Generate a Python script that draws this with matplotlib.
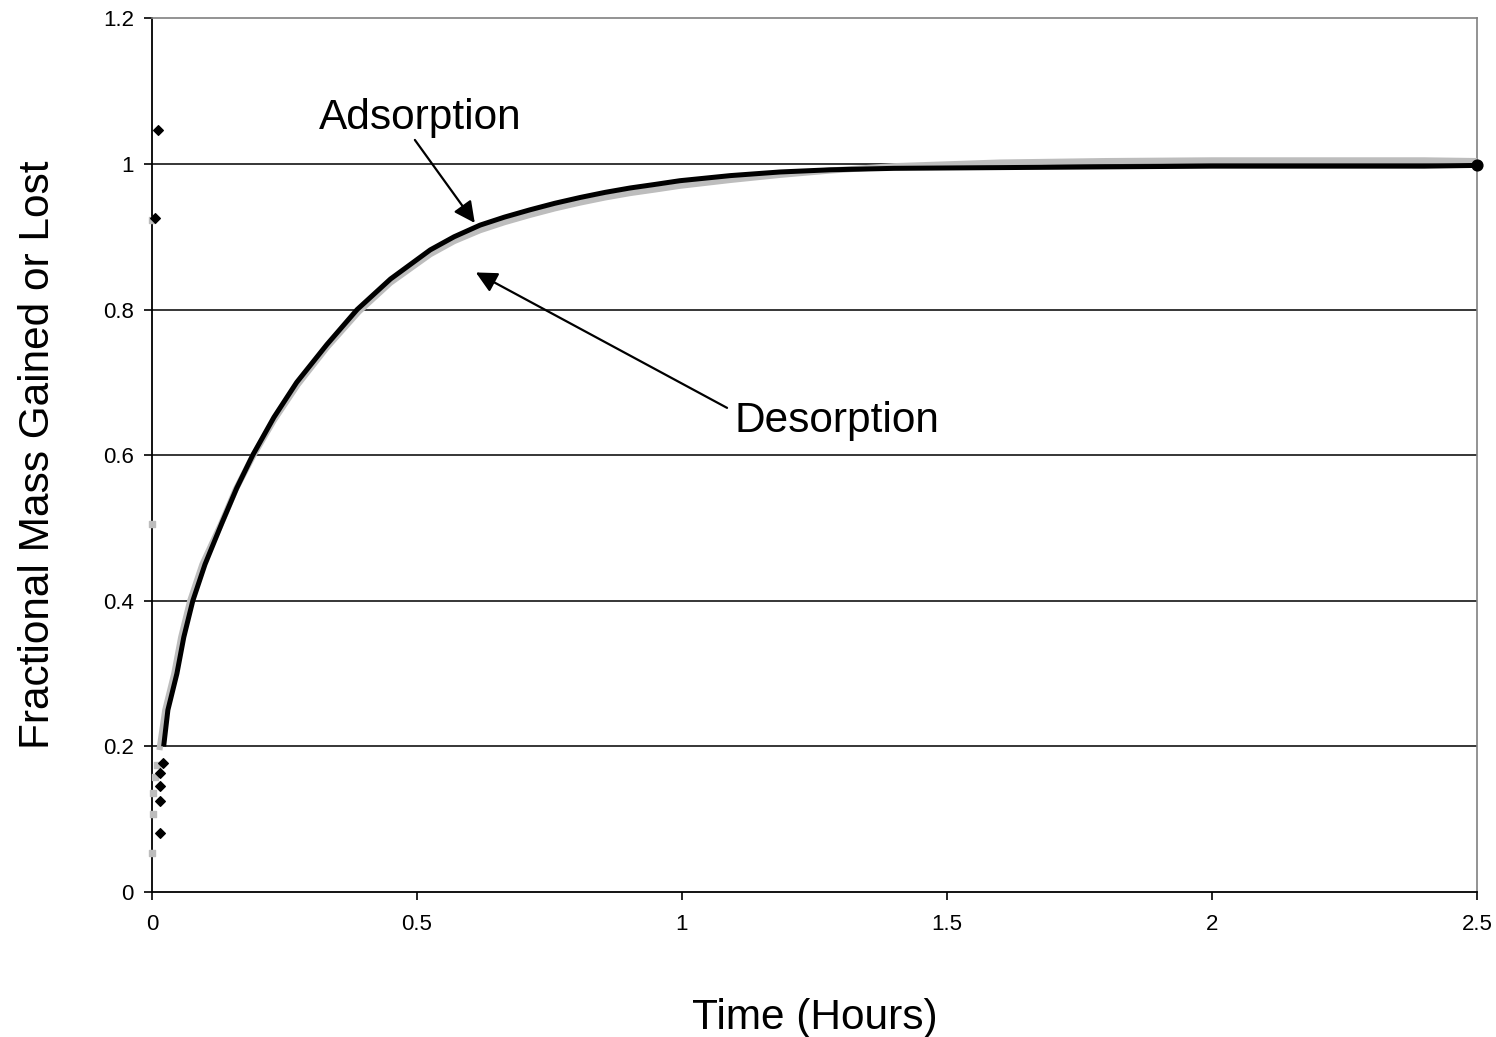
import numpy as np
import matplotlib.pyplot as plt

plt.rcParams['font.family'] = ['Liberation Sans', 'DejaVu Sans']

# values
ads_t = [0.022, 0.030, 0.047, 0.060, 0.077, 0.100, 0.132, 0.160, 0.190, 0.230, 0.273, 0.330,
         0.387, 0.450, 0.525, 0.570, 0.619, 0.665, 0.713, 0.760, 0.808, 0.855, 0.902, 0.950,
         0.996, 1.091, 1.185, 1.280, 1.400, 1.600, 1.800, 2.000, 2.200, 2.400, 2.500]
ads_y = [0.200, 0.250, 0.300, 0.350, 0.400, 0.450, 0.507, 0.555, 0.600, 0.652, 0.700, 0.752,
         0.800, 0.842, 0.882, 0.900, 0.916, 0.927, 0.937, 0.946, 0.954, 0.961, 0.967, 0.972,
         0.977, 0.984, 0.989, 0.992, 0.994, 0.995, 0.996, 0.997, 0.997, 0.997, 0.998]

des_t = [0.014, 0.025, 0.042, 0.055, 0.072, 0.095, 0.130, 0.158, 0.190, 0.230, 0.275, 0.330,
         0.390, 0.450, 0.525, 0.570, 0.619, 0.665, 0.713, 0.760, 0.808, 0.855, 0.902, 0.950,
         0.996, 1.091, 1.185, 1.280, 1.400, 1.600, 1.800, 2.000, 2.200, 2.400, 2.500]
des_y = [0.195, 0.250, 0.300, 0.350, 0.400, 0.450, 0.505, 0.553, 0.598, 0.648, 0.697, 0.748,
         0.797, 0.837, 0.876, 0.894, 0.909, 0.920, 0.930, 0.939, 0.947, 0.954, 0.960, 0.965,
         0.970, 0.978, 0.985, 0.991, 0.997, 1.002, 1.004, 1.005, 1.005, 1.005, 1.004]

# stray early readings
ads_early_t = [0.011, 0.006, 0.015, 0.015, 0.016, 0.016, 0.020]
ads_early_y = [1.046, 0.926, 0.081, 0.125, 0.145, 0.164, 0.177]
des_early_t = [0.000, 0.000, 0.001, 0.001, 0.006, 0.009, 0.000]
des_early_y = [0.923, 0.054, 0.107, 0.136, 0.158, 0.174, 0.505]

fig = plt.figure(figsize=(14.96, 10.37), dpi=100)
ax = fig.add_axes([0.1016, 0.1398, 0.8857, 0.8425])

ax.plot(des_t, des_y, color='#bdbdbd', lw=4.4, solid_capstyle='butt', zorder=3)
ax.plot(ads_t, ads_y, color='black', lw=3.6, solid_capstyle='butt', zorder=4)
ax.scatter(des_early_t, des_early_y, marker='s', s=24, color='#bdbdbd', zorder=3, clip_on=False)
ax.scatter(ads_early_t, ads_early_y, marker='D', s=24, color='black', zorder=4, clip_on=False)
ax.scatter([ads_t[-1]], [ads_y[-1]], marker='o', s=60, color='black', zorder=5, clip_on=False)

ax.set_xlim(0, 2.5)
ax.set_ylim(0, 1.2)
ax.set_xticks([0, 0.5, 1, 1.5, 2, 2.5])
ax.set_xticklabels(['0', '0.5', '1', '1.5', '2', '2.5'])
ax.set_yticks([0, 0.2, 0.4, 0.6, 0.8, 1, 1.2])
ax.set_yticklabels(['0', '0.2', '0.4', '0.6', '0.8', '1', '1.2'])
ax.tick_params(direction='out', length=6, width=1.2, labelsize=16, colors='black')
ax.tick_params(axis='y', pad=7)
ax.tick_params(axis='x', pad=10)

for v in [0.2, 0.4, 0.6, 0.8, 1.0]:
    ax.axhline(v, color='black', lw=1.1, zorder=1)

ax.spines['left'].set_linewidth(1.3)
ax.spines['bottom'].set_linewidth(1.3)
ax.spines['top'].set_color('#808080')
ax.spines['right'].set_color('#808080')
ax.spines['top'].set_linewidth(1.2)
ax.spines['right'].set_linewidth(1.2)

ax.set_xlabel('Time (Hours)', fontsize=30.5, labelpad=45)
ax.set_ylabel('Fractional Mass Gained or Lost', fontsize=30.5, labelpad=32)

arrow = dict(arrowstyle='-|>', color='black', lw=1.6, mutation_scale=32, shrinkA=0, shrinkB=0)
ax.annotate('', xy=(0.609, 0.919), xytext=(0.496, 1.033), arrowprops=arrow, zorder=6)
ax.text(0.506, 1.063, 'Adsorption', fontsize=30.5, ha='center', va='center')
ax.annotate('', xy=(0.611, 0.851), xytext=(1.085, 0.665), arrowprops=arrow, zorder=6)
ax.text(1.100, 0.647, 'Desorption', fontsize=30.5, ha='left', va='center')

fig.savefig('out.png', dpi=100)
